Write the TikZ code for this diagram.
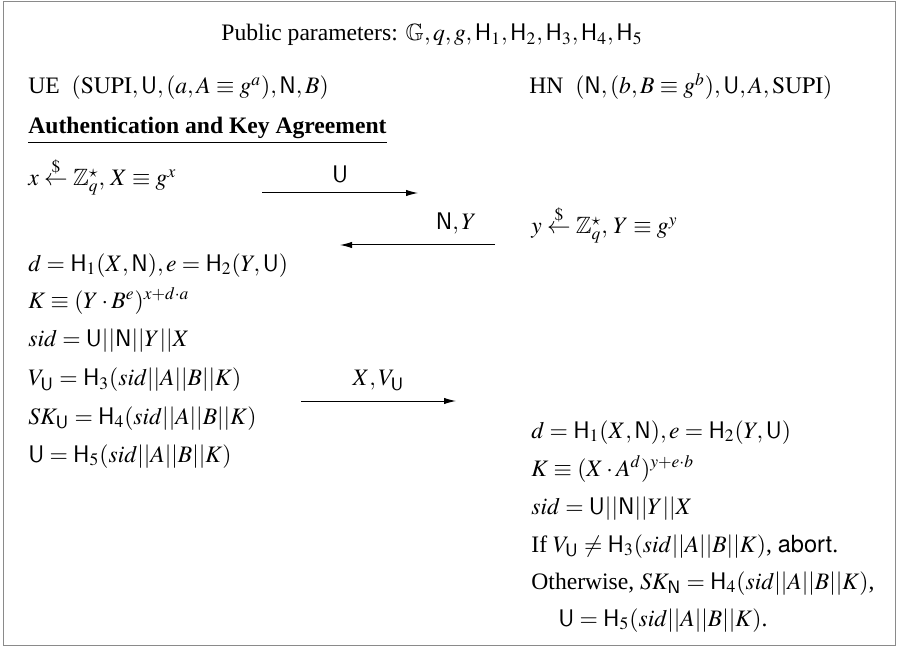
\documentclass[tikz,border=0pt]{standalone}
\usepackage{amsmath,amssymb}
\usepackage{mathptmx}
\usepackage{fontspec}
\setmainfont{Liberation Serif}
\setsansfont{TeX Gyre Heros}
\usetikzlibrary{arrows.meta,positioning}
\definecolor{frame}{HTML}{8A8A8A}
\newcommand{\UU}{\mathsf{U}}
\newcommand{\NN}{\mathsf{N}}
\newcommand{\HH}[1]{\mathsf{H}_{#1}}
\newcommand{\kin}{sid||A||B||K}

\begin{document}
\begin{tikzpicture}[x=0.5pt,y=-0.5pt,
    every node/.style={font=\fontsize{11.8}{14}\selectfont},
    ln/.style={anchor=base west, inner sep=0pt},
    msg/.style={line width=0.5pt, -{Latex[length=6pt,width=3.2pt]}},
    tag/.style={above=5pt, inner sep=0pt}]
  \useasboundingbox (0,0) rectangle (901,647);
  \draw[frame, line width=0.8pt] (3.5,1.5) rectangle (895.5,645.5);

  % header
  \node[anchor=base, inner sep=0pt] (pub) at (432,41)
    {Public parameters: $\mathbb{G},q,g,\HH1,\HH2,\HH3,\HH4,\HH5$};
  \node[ln] (ue) at (28,94) {UE\ \ $(\mathrm{SUPI},\UU,(a,A\equiv g^{a}),\NN,B)$};
  \node[ln] (hn) at (529,94) {HN\ \ $(\NN,(b,B\equiv g^{b}),\UU,A,\mathrm{SUPI})$};
  \node[ln] (akatitle) at (28,134) {\underline{\textbf{Authentication and Key Agreement}}};

  % UE side
  \node[ln] (ux) at (28,186) {$x\stackrel{\$}{\leftarrow}\mathbb{Z}_q^{\star},\, X\equiv g^{x}$};
  \node[ln] (ud) at (28,271) {$d=\HH1(X,\NN),e=\HH2(Y,\UU)$};
  \node[ln] (uk) at (28,308) {$K\equiv(Y\cdot B^{e})^{x+d\cdot a}$};
  \node[ln] (usid) at (28,346) {$sid=\UU||\NN||Y||X$};
  \node[ln] (uv) at (28,386) {$V_{\UU}=\HH3(\kin)$};
  \node[ln] (usk) at (28,424) {$SK_{\UU}=\HH4(\kin)$};
  \node[ln] (uu) at (28,462) {$\UU=\HH5(\kin)$};

  % HN side
  \node[ln] (hy) at (531,234) {$y\stackrel{\$}{\leftarrow}\mathbb{Z}_q^{\star},\, Y\equiv g^{y}$};
  \node[ln] (hd) at (531,438) {$d=\HH1(X,\NN),e=\HH2(Y,\UU)$};
  \node[ln] (hk) at (531,476) {$K\equiv(X\cdot A^{d})^{y+e\cdot b}$};
  \node[ln] (hsid) at (531,514) {$sid=\UU||\NN||Y||X$};
  \node[ln] (hchk) at (531,552) {If $V_{\UU}\neq\HH3(\kin)$, \textsf{abort}.};
  \node[ln] (hsk) at (531,589) {Otherwise, $SK_{\NN}=\HH4(\kin)$,};
  \node[ln] (hu) at (558,626) {$\UU=\HH5(\kin)$.};

  % messages
  \coordinate (m1a) at (262,193);
  \coordinate (m1b) at (418,193);
  \coordinate (m2a) at (495,245);
  \coordinate (m2b) at (340,245);
  \coordinate (m3a) at (301,401);
  \coordinate (m3b) at (456,401);
  \draw[msg] (m1a) -- node[tag] (l1) {$\UU$} (m1b);
  \draw[msg] (m2a) -- node[tag, pos=0.25] (l2) {$\NN,Y$} (m2b);
  \draw[msg] (m3a) -- node[tag] (l3) {$X,V_{\UU}$} (m3b);
\end{tikzpicture}
\end{document}
